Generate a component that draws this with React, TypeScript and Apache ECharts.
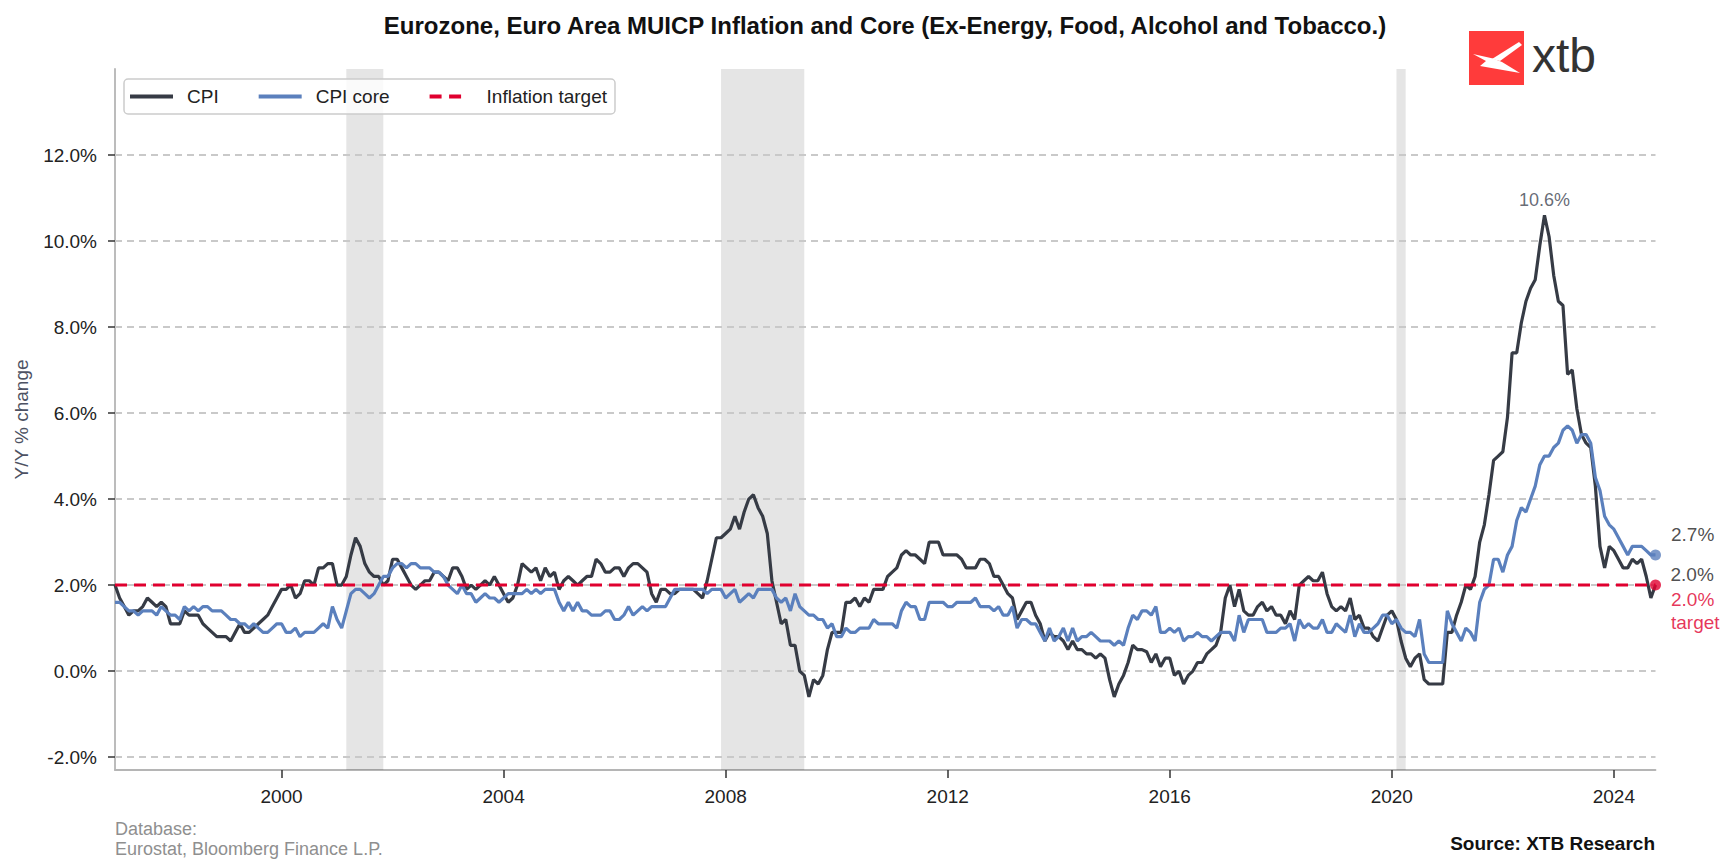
import React, { useEffect, useRef } from 'react';
import * as echarts from 'echarts';

const FONT = '"Liberation Sans", Arial, Helvetica, sans-serif';
const TITLE = 'Eurozone, Euro Area MUICP Inflation and Core (Ex-Energy, Food, Alcohol and Tobacco.)';
const START_YEAR = 1997; // first observation: January 1997, monthly

// Headline HICP, Y/Y %
const cpi = [
  2.0, 1.7, 1.5, 1.3, 1.4, 1.4, 1.5, 1.7, 1.6, 1.5, 1.6, 1.5, // 1997
  1.1, 1.1, 1.1, 1.4, 1.3, 1.3, 1.3, 1.1, 1.0, 0.9, 0.8, 0.8, // 1998
  0.8, 0.7, 0.9, 1.1, 0.9, 0.9, 1.0, 1.1, 1.2, 1.3, 1.5, 1.7, // 1999
  1.9, 1.9, 2.0, 1.7, 1.8, 2.1, 2.1, 2.0, 2.4, 2.4, 2.5, 2.5, // 2000
  2.0, 2.0, 2.2, 2.7, 3.1, 2.9, 2.5, 2.3, 2.2, 2.2, 2.0, 2.1, // 2001
  2.6, 2.6, 2.4, 2.2, 2.0, 1.9, 2.0, 2.1, 2.1, 2.3, 2.3, 2.2, // 2002
  2.1, 2.4, 2.4, 2.2, 1.9, 2.0, 1.9, 2.0, 2.1, 2.0, 2.2, 2.0, // 2003
  1.8, 1.6, 1.7, 2.0, 2.5, 2.4, 2.3, 2.4, 2.1, 2.4, 2.2, 2.3, // 2004
  1.9, 2.1, 2.2, 2.1, 2.0, 2.1, 2.2, 2.2, 2.6, 2.5, 2.3, 2.3, // 2005
  2.4, 2.4, 2.2, 2.4, 2.5, 2.5, 2.4, 2.3, 1.8, 1.6, 1.9, 1.9, // 2006
  1.8, 1.8, 1.9, 1.9, 1.9, 1.9, 1.8, 1.7, 2.1, 2.6, 3.1, 3.1, // 2007
  3.2, 3.3, 3.6, 3.3, 3.7, 4.0, 4.1, 3.8, 3.6, 3.2, 2.1, 1.6, // 2008
  1.1, 1.2, 0.6, 0.6, 0.0, -0.1, -0.6, -0.2, -0.3, -0.1, 0.5, 0.9, // 2009
  0.9, 0.9, 1.6, 1.6, 1.7, 1.5, 1.7, 1.6, 1.9, 1.9, 1.9, 2.2, // 2010
  2.3, 2.4, 2.7, 2.8, 2.7, 2.7, 2.6, 2.5, 3.0, 3.0, 3.0, 2.7, // 2011
  2.7, 2.7, 2.7, 2.6, 2.4, 2.4, 2.4, 2.6, 2.6, 2.5, 2.2, 2.2, // 2012
  2.0, 1.8, 1.7, 1.2, 1.4, 1.6, 1.6, 1.3, 1.1, 0.7, 0.9, 0.8, // 2013
  0.8, 0.7, 0.5, 0.7, 0.5, 0.5, 0.4, 0.4, 0.3, 0.4, 0.3, -0.2, // 2014
  -0.6, -0.3, -0.1, 0.2, 0.6, 0.5, 0.5, 0.45, 0.2, 0.4, 0.1, 0.3, // 2015
  0.3, -0.1, 0.0, -0.3, -0.1, 0.0, 0.2, 0.2, 0.4, 0.5, 0.6, 0.9, // 2016
  1.7, 2.0, 1.5, 1.9, 1.4, 1.3, 1.3, 1.5, 1.6, 1.4, 1.5, 1.3, // 2017
  1.3, 1.1, 1.4, 1.2, 2.0, 2.1, 2.2, 2.1, 2.1, 2.3, 1.8, 1.5, // 2018
  1.4, 1.5, 1.4, 1.7, 1.2, 1.3, 1.0, 1.0, 0.8, 0.7, 1.0, 1.3, // 2019
  1.4, 1.2, 0.7, 0.3, 0.1, 0.3, 0.4, -0.2, -0.3, -0.3, -0.3, -0.3, // 2020
  0.9, 0.9, 1.3, 1.6, 2.0, 1.9, 2.2, 3.0, 3.4, 4.1, 4.9, 5.0, // 2021
  5.1, 5.9, 7.4, 7.4, 8.1, 8.6, 8.9, 9.1, 9.9, 10.6, 10.1, 9.2, // 2022
  8.6, 8.5, 6.9, 7.0, 6.1, 5.5, 5.3, 5.2, 4.3, 2.9, 2.4, 2.9, // 2023
  2.8, 2.6, 2.4, 2.4, 2.6, 2.5, 2.6, 2.2, 1.7, 2.0, // 2024
];

// Core (ex energy, food, alcohol & tobacco), Y/Y %
const core = [
  1.6, 1.6, 1.5, 1.4, 1.4, 1.3, 1.4, 1.4, 1.4, 1.3, 1.5, 1.4, // 1997
  1.3, 1.3, 1.2, 1.5, 1.4, 1.5, 1.4, 1.5, 1.5, 1.4, 1.4, 1.4, // 1998
  1.3, 1.2, 1.2, 1.1, 1.1, 1.0, 1.1, 1.0, 0.9, 0.9, 1.0, 1.1, // 1999
  1.1, 0.9, 0.9, 1.0, 0.8, 0.9, 0.9, 0.9, 1.0, 1.1, 1.0, 1.5, // 2000
  1.2, 1.0, 1.4, 1.8, 1.9, 1.9, 1.8, 1.7, 1.8, 2.0, 2.2, 2.2, // 2001
  2.4, 2.5, 2.5, 2.4, 2.5, 2.5, 2.4, 2.4, 2.4, 2.3, 2.3, 2.2, // 2002
  2.0, 1.9, 1.8, 2.0, 1.8, 1.8, 1.6, 1.7, 1.8, 1.7, 1.7, 1.6, // 2003
  1.7, 1.8, 1.8, 1.8, 1.8, 1.9, 1.8, 1.9, 1.8, 1.9, 1.9, 1.9, // 2004
  1.6, 1.4, 1.6, 1.4, 1.6, 1.4, 1.4, 1.3, 1.3, 1.3, 1.4, 1.4, // 2005
  1.2, 1.2, 1.3, 1.5, 1.3, 1.4, 1.5, 1.4, 1.5, 1.5, 1.5, 1.5, // 2006
  1.7, 1.9, 1.9, 1.9, 1.9, 1.9, 1.9, 1.9, 1.8, 1.9, 1.9, 1.9, // 2007
  1.7, 1.8, 1.9, 1.6, 1.7, 1.8, 1.7, 1.9, 1.9, 1.9, 1.9, 1.7, // 2008
  1.6, 1.7, 1.4, 1.8, 1.5, 1.4, 1.3, 1.3, 1.2, 1.2, 1.0, 1.1, // 2009
  0.8, 0.8, 1.0, 0.9, 0.9, 1.0, 1.0, 1.0, 1.2, 1.1, 1.1, 1.1, // 2010
  1.1, 1.0, 1.4, 1.6, 1.5, 1.5, 1.2, 1.2, 1.6, 1.6, 1.6, 1.6, // 2011
  1.5, 1.5, 1.6, 1.6, 1.6, 1.6, 1.7, 1.5, 1.5, 1.5, 1.4, 1.5, // 2012
  1.3, 1.3, 1.5, 1.0, 1.2, 1.2, 1.1, 1.1, 0.9, 0.7, 1.0, 0.7, // 2013
  0.8, 1.0, 0.7, 1.0, 0.7, 0.8, 0.8, 0.9, 0.8, 0.7, 0.7, 0.7, // 2014
  0.6, 0.7, 0.6, 1.0, 1.3, 1.2, 1.4, 1.4, 1.3, 1.5, 0.9, 0.9, // 2015
  1.0, 0.9, 1.0, 0.7, 0.8, 0.8, 0.9, 0.8, 0.8, 0.7, 0.8, 0.9, // 2016
  0.9, 0.9, 0.7, 1.3, 0.9, 1.2, 1.2, 1.2, 1.2, 0.9, 0.9, 0.9, // 2017
  1.0, 1.0, 1.1, 0.7, 1.2, 1.0, 1.1, 1.0, 1.0, 1.2, 0.9, 0.9, // 2018
  1.1, 1.0, 0.9, 1.3, 0.8, 1.1, 0.9, 0.9, 1.0, 1.1, 1.3, 1.3, // 2019
  1.1, 1.2, 1.0, 0.9, 0.9, 0.8, 1.2, 0.4, 0.2, 0.2, 0.2, 0.2, // 2020
  1.4, 1.1, 0.9, 0.7, 1.0, 0.9, 0.7, 1.6, 1.9, 2.0, 2.6, 2.6, // 2021
  2.3, 2.7, 2.9, 3.5, 3.8, 3.7, 4.0, 4.3, 4.8, 5.0, 5.0, 5.2, // 2022
  5.3, 5.6, 5.7, 5.6, 5.3, 5.5, 5.5, 5.3, 4.5, 4.2, 3.6, 3.4, // 2023
  3.3, 3.1, 2.9, 2.7, 2.9, 2.9, 2.9, 2.8, 2.7, 2.7, // 2024
];

const TARGET = 2.0;
const xTickYears = [2000, 2004, 2008, 2012, 2016, 2020, 2024];
const yTickValues = [-2, 0, 2, 4, 6, 8, 10, 12];
const recessions: [string, string][] = [
  ['2001-03', '2001-11'],
  ['2007-12', '2009-06'],
  ['2020-02', '2020-04'],
];
const legendNames = ['CPI', 'CPI core', 'Inflation target'];

const COLOR_CPI = '#363b45';
const COLOR_CORE = '#5b80bd';
const COLOR_TARGET = '#e0002f';

const ICON_SOLID = 'rect';
const ICON_DASHED = 'path://M0,0h12v4h-12z M19.5,0h12v4h-12z M43,0L43,4';

const ymToX = (ym: string) => {
  const [y, m] = ym.split('-').map(Number);
  return y + (m - 1) / 12;
};
const idxToX = (i: number) => START_YEAR + i / 12;
const pct = (v: number) => `${v.toFixed(1)}%`;

export default function App() {
  const ref = useRef<HTMLDivElement>(null);

  useEffect(() => {
    if (!ref.current) return;
    const chart = echarts.init(ref.current, undefined, { renderer: 'svg' });

    const cpiData = cpi.map((v, i) => [idxToX(i), v]);
    const coreData = core.map((v, i) => [idxToX(i), v]);
    const xMin = idxToX(0);
    const xMax = idxToX(Math.max(cpi.length, core.length) - 1);
    const lastCpi = cpi[cpi.length - 1];
    const lastCore = core[core.length - 1];
    let peakIdx = 0;
    cpi.forEach((v, i) => {
      if (v > cpi[peakIdx]) peakIdx = i;
    });

    const L0 = 1469;
    const T0 = 31;

    const option: any = {
      animation: false,
      backgroundColor: '#ffffff',
      textStyle: { fontFamily: FONT },
      grid: {
        left: 115,
        top: 69,
        width: 1540.5,
        height: 701,
        containLabel: false,
        outerBoundsMode: 'none',
      },
      legend: {
        data: legendNames.map((name, i) => ({ name, icon: i === 2 ? ICON_DASHED : ICON_SOLID })),
        left: 124,
        top: 79,
        itemWidth: 43,
        itemHeight: 4,
        itemGap: 40,
        padding: [8, 8, 8, 6],
        itemStyle: { borderWidth: 0 },
        backgroundColor: 'rgba(255,255,255,0.8)',
        borderColor: '#cccccc',
        borderWidth: 1.5,
        borderRadius: 4,
        textStyle: { fontSize: 19, color: '#222222', fontFamily: FONT, padding: [0, 0, 0, 9] },
      },
      xAxis: {
        type: 'value',
        min: xMin,
        max: xMax,
        axisLine: { show: true, onZero: false, lineStyle: { color: '#b5b5b5', width: 1.8 } },
        axisTick: {
          show: true,
          length: 8,
          customValues: xTickYears,
          lineStyle: { color: '#333333', width: 1.5 },
        },
        axisLabel: {
          show: true,
          customValues: xTickYears,
          margin: 17,
          fontSize: 19,
          color: '#222222',
          fontFamily: FONT,
          formatter: (v: number) => String(Math.round(v)),
        },
        splitLine: { show: false },
      },
      yAxis: {
        type: 'value',
        min: -2.3,
        max: 14.0,
        name: 'Y/Y % change',
        nameLocation: 'middle',
        nameGap: 84,
        nameRotate: 90,
        nameTextStyle: { fontSize: 19, color: '#4d5263', fontFamily: FONT },
        axisLine: { show: true, onZero: false, lineStyle: { color: '#b5b5b5', width: 1.8 } },
        axisTick: {
          show: true,
          length: 7,
          customValues: yTickValues,
          lineStyle: { color: '#333333', width: 1.5 },
        },
        axisLabel: {
          show: true,
          customValues: yTickValues,
          margin: 18,
          fontSize: 19,
          color: '#222222',
          fontFamily: FONT,
          formatter: (v: number) => pct(v),
        },
        splitLine: { show: false },
      },
      series: [
        {
          name: 'CPI',
          type: 'line',
          data: cpiData,
          symbol: 'none',
          z: 2,
          lineStyle: { color: COLOR_CPI, width: 3.2 },
          itemStyle: { color: COLOR_CPI },
          markArea: {
            silent: true,
            z: 1,
            itemStyle: { color: 'rgba(0,0,0,0.1)' },
            data: recessions.map(([a, b]) => [{ xAxis: ymToX(a) }, { xAxis: ymToX(b) }]),
          },
          markLine: {
            silent: true,
            z: 1,
            symbol: ['none', 'none'],
            label: { show: false },
            lineStyle: { type: [7, 5], color: '#c9c9c9', width: 1.8 },
            data: yTickValues.map((v) => ({ yAxis: v })),
          },
        },
        {
          name: 'CPI core',
          type: 'line',
          data: coreData,
          symbol: 'none',
          z: 2,
          lineStyle: { color: COLOR_CORE, width: 3.2 },
          itemStyle: { color: COLOR_CORE },
        },
        {
          name: 'Inflation target',
          type: 'line',
          data: [
            [xMin, TARGET],
            [xMax, TARGET],
          ],
          symbol: 'none',
          z: 3,
          lineStyle: { color: COLOR_TARGET, width: 3, type: [12, 7] },
          itemStyle: { color: COLOR_TARGET },
        },
        {
          name: 'annotations',
          type: 'scatter',
          z: 4,
          silent: true,
          data: [
            {
              value: [idxToX(peakIdx), cpi[peakIdx]],
              symbolSize: 0.1,
              itemStyle: { color: 'rgba(0,0,0,0)' },
              label: {
                show: true,
                position: 'top',
                distance: 6,
                formatter: pct(cpi[peakIdx]),
                fontSize: 18,
                color: '#404552',
                fontFamily: FONT,
              },
            },
            {
              value: [xMax, lastCpi],
              symbolSize: 10,
              itemStyle: { color: 'rgba(0,0,0,0)' },
              label: {
                show: true,
                position: 'right',
                distance: 10,
                offset: [0, -11],
                formatter: pct(lastCpi),
                fontSize: 19,
                color: '#222222',
                fontFamily: FONT,
              },
            },
            {
              value: [xMax, lastCore],
              symbolSize: 11,
              itemStyle: { color: COLOR_CORE },
              label: {
                show: true,
                position: 'right',
                distance: 10,
                offset: [0, -20],
                formatter: pct(lastCore),
                fontSize: 19,
                color: '#222222',
                fontFamily: FONT,
              },
            },
            {
              value: [xMax, TARGET],
              symbolSize: 11,
              itemStyle: { color: COLOR_TARGET },
              label: {
                show: true,
                position: 'right',
                distance: 10,
                offset: [0, 26],
                formatter: `${pct(TARGET)}\ntarget`,
                fontSize: 19,
                lineHeight: 23,
                color: COLOR_TARGET,
                fontFamily: FONT,
              },
            },
          ],
        },
      ],
      graphic: [
        {
          type: 'text',
          x: 885,
          y: 25,
          style: {
            text: TITLE,
            fill: '#111111',
            font: `bold 24px ${FONT}`,
            align: 'center',
            verticalAlign: 'middle',
            textAlign: 'center',
            textVerticalAlign: 'middle',
          },
        },
        {
          type: 'rect',
          shape: { x: L0, y: T0, width: 55, height: 54 },
          style: { fill: '#ff3b3b' },
        },
        {
          type: 'polygon',
          shape: {
            points: [
              [L0 + 50, T0 + 11],
              [L0 + 53, T0 + 14],
              [L0 + 31, T0 + 30],
              [L0 + 23, T0 + 28],
            ],
          },
          style: { fill: '#ffffff' },
        },
        {
          type: 'polygon',
          shape: {
            points: [
              [L0 + 4, T0 + 23],
              [L0 + 24, T0 + 27.5],
              [L0 + 33, T0 + 31],
              [L0 + 51, T0 + 42],
              [L0 + 31, T0 + 38.5],
              [L0 + 11, T0 + 35],
              [L0 + 17, T0 + 30],
            ],
          },
          style: { fill: '#ffffff' },
        },
        {
          type: 'text',
          x: 1532,
          y: 55,
          style: {
            text: 'xtb',
            fill: '#333333',
            font: `48px ${FONT}`,
            align: 'left',
            verticalAlign: 'middle',
            textAlign: 'left',
            textVerticalAlign: 'middle',
          },
        },
        {
          type: 'text',
          x: 115,
          y: 819,
          style: {
            text: 'Database:\nEurostat, Bloomberg Finance L.P.',
            fill: '#8f8f8f',
            font: `18px ${FONT}`,
            lineHeight: 20,
            align: 'left',
            verticalAlign: 'top',
            textAlign: 'left',
            textVerticalAlign: 'top',
          },
        },
        {
          type: 'text',
          x: 1655,
          y: 843,
          style: {
            text: 'Source: XTB Research',
            fill: '#111111',
            font: `bold 19px ${FONT}`,
            align: 'right',
            verticalAlign: 'middle',
            textAlign: 'right',
            textVerticalAlign: 'middle',
          },
        },
      ],
    };

    chart.setOption(option);
    return () => {
      chart.dispose();
    };
  }, []);

  return (
    <div
      ref={ref}
      style={{ position: 'fixed', left: 0, top: 0, width: '1736px', height: '861px', background: '#ffffff' }}
    />
  );
}
